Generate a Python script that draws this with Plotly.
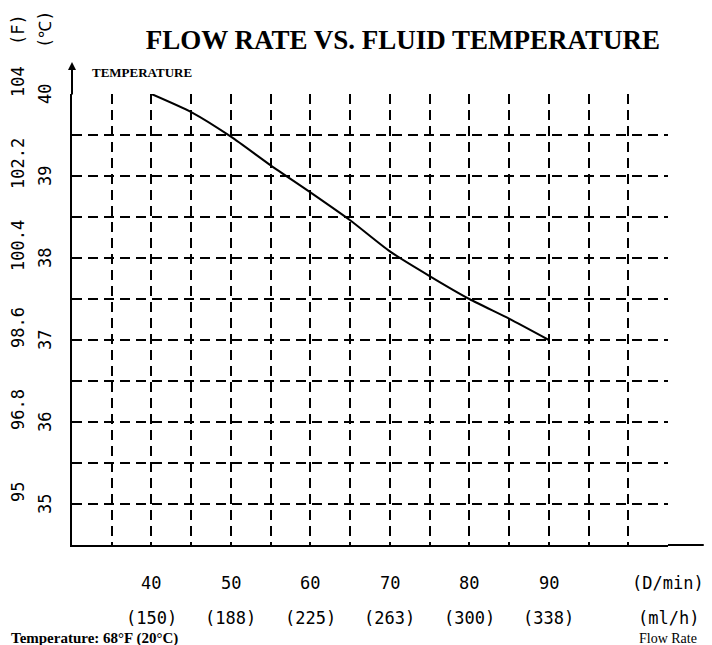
import plotly.graph_objects as go

# Data
flow_dmin = [40, 45, 50, 55, 60, 65, 70, 75, 80, 85, 90]
temp_c = [40.0, 39.78, 39.48, 39.13, 38.8, 38.46, 38.08, 37.78, 37.5, 37.26, 37.0]

x_tick_vals = [40, 50, 60, 70, 80, 90, 105]
x_tick_dmin = ["40", "50", "60", "70", "80", "90", "(D/min)"]
x_tick_mlh = ["(150)", "(188)", "(225)", "(263)", "(300)", "(338)", "(ml/h)"]

y_tick_c = [40, 39, 38, 37, 36, 35]
y_tick_c_text = ["40", "39", "38", "37", "36", "35"]
y_tick_f_text = ["104", "102.2", "100.4", "98.6", "96.8", "95"]

x_grid = list(range(35, 106, 5))
y_grid = [34.5 + 0.5 * i for i in range(12)]

NUM_FONT = dict(family="DejaVu Sans Mono", size=17, color="black")
SERIF = "Liberation Serif"

fig = go.Figure()
fig.add_trace(go.Scatter(
    x=flow_dmin, y=temp_c, mode="lines",
    line=dict(color="black", width=2, shape="spline", smoothing=0.6),
    hoverinfo="skip", showlegend=False,
))

annotations = []
# x tick labels (two rows)
for xv, t1, t2 in zip(x_tick_vals, x_tick_dmin, x_tick_mlh):
    annotations.append(dict(x=xv, y=0, xref="x", yref="paper", text=t1,
                            showarrow=False, yshift=-38, yanchor="middle",
                            font=NUM_FONT))
    annotations.append(dict(x=xv, y=0, xref="x", yref="paper", text=t2,
                            showarrow=False, yshift=-73, yanchor="middle",
                            font=NUM_FONT))
# y tick labels (C and F columns, rotated)
for yv, tc, tf in zip(y_tick_c, y_tick_c_text, y_tick_f_text):
    annotations.append(dict(x=0, y=yv, xref="paper", yref="y", text=tc,
                            showarrow=False, textangle=-90, xshift=-27,
                            xanchor="center", yanchor="middle", font=NUM_FONT))
    annotations.append(dict(x=0, y=yv, xref="paper", yref="y", text=tf,
                            showarrow=False, textangle=-90, xshift=-54, yshift=12,
                            xanchor="center", yanchor="middle", font=NUM_FONT))
# unit headers
annotations.append(dict(x=0, y=1, xref="paper", yref="paper", text="(F)",
                        showarrow=False, textangle=-90, xshift=-54, yshift=64,
                        xanchor="center", yanchor="middle", font=NUM_FONT))
annotations.append(dict(x=0, y=1, xref="paper", yref="paper", text="(℃)",
                        showarrow=False, textangle=-90, xshift=-27, yshift=64,
                        xanchor="center", yanchor="middle", font=NUM_FONT))
# y axis arrow
annotations.append(dict(x=0, y=1, xref="paper", yref="paper", text="",
                        showarrow=True, arrowhead=2, arrowsize=0.8, arrowwidth=2,
                        arrowcolor="black", yshift=32, ax=0, ay=34))
annotations.append(dict(x=0, y=1, xref="paper", yref="paper",
                        text="<b>TEMPERATURE</b>", showarrow=False,
                        xanchor="left", yanchor="middle", yshift=22, xshift=18,
                        font=dict(family=SERIF, size=13, color="black")))
# notes
annotations.append(dict(x=0, y=0, xref="paper", yref="paper",
                        text="<b>Temperature: 68°F (20°C)</b>", showarrow=False,
                        xanchor="left", yanchor="middle", xshift=-63, yshift=-93,
                        font=dict(family=SERIF, size=15, color="black")))
annotations.append(dict(x=105, y=0, xref="x", yref="paper",
                        text="Flow Rate", showarrow=False,
                        yanchor="middle", yshift=-93,
                        font=dict(family=SERIF, size=14, color="black")))

fig.update_layout(
    width=704, height=637,
    margin=dict(l=64, r=44, t=86, b=100),
    paper_bgcolor="white", plot_bgcolor="white",
    title=dict(text="<b>FLOW RATE VS. FLUID TEMPERATURE</b>",
               x=0.561, xanchor="center", y=0.95, yanchor="middle",
               font=dict(family=SERIF, size=27, color="black")),
    xaxis=dict(range=[30, 105], tickvals=x_grid, showticklabels=False,
               showgrid=True, gridcolor="black", gridwidth=1.8, griddash="10px,6px",
               showline=True, linecolor="black", linewidth=2,
               ticks="", zeroline=False, fixedrange=True),
    yaxis=dict(range=[34.5, 40], tickvals=y_grid, showticklabels=False,
               showgrid=True, gridcolor="black", gridwidth=1.8, griddash="10px,6px",
               showline=True, linecolor="black", linewidth=2,
               ticks="", zeroline=False, fixedrange=True),
    annotations=annotations,
    shapes=[dict(type="line", xref="paper", yref="paper", x0=1, x1=1.06,
                 y0=0, y1=0, line=dict(color="black", width=2))],
)

fig.write_html("out.html")
